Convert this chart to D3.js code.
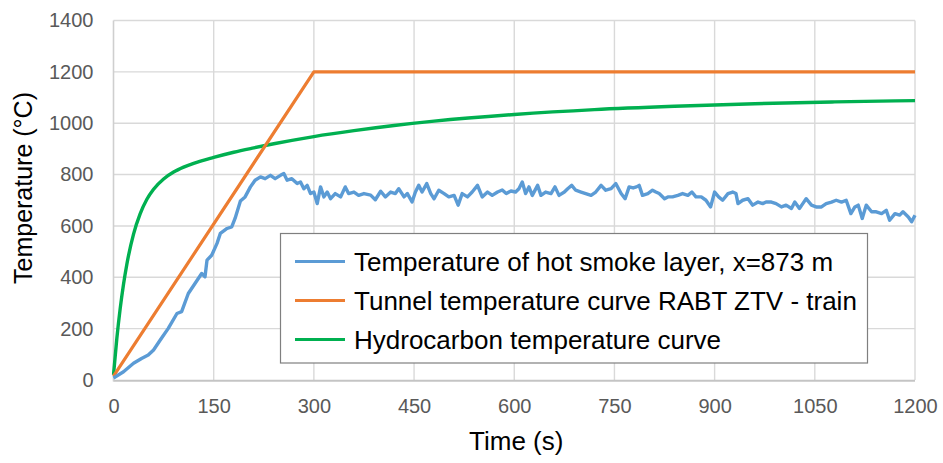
<!DOCTYPE html>
<html>
<head>
<meta charset="utf-8">
<script src="https://cdn.jsdelivr.net/npm/d3@7/dist/d3.min.js"></script>
<style>
  html, body { margin: 0; padding: 0; background: #fff; }
  svg { display: block; font-family: "Liberation Sans", Arial, sans-serif; }
</style>
</head>
<body>
<svg id="chart" width="943" height="463"></svg>
<script>
// ---- data ----
const xTicks = [0, 150, 300, 450, 600, 750, 900, 1050, 1200];
const yTicks = [0, 200, 400, 600, 800, 1000, 1200, 1400];
const seriesNames = [
  "Temperature of hot smoke layer, x=873 m",
  "Tunnel temperature curve RABT ZTV - train",
  "Hydrocarbon temperature curve"
];

const smokeTime = [0, 15, 30, 42, 52, 60, 70, 82, 95, 102, 112, 122, 132, 137, 140, 147, 155, 160, 170, 177, 182, 190, 197, 205, 212, 220, 227, 235, 242, 250, 255, 260, 267, 275, 280, 285, 290, 295, 300, 305, 310, 315, 320, 325, 332, 340, 347, 352, 360, 367, 375, 385, 392, 400, 407, 415, 422, 427, 435, 440, 447, 452, 457, 462, 469, 475, 480, 487, 495, 502, 510, 516, 522, 530, 537, 545, 552, 560, 567, 575, 582, 588, 595, 602, 607, 612, 617, 622, 627, 635, 640, 647, 655, 661, 667, 675, 680, 686, 692, 700, 707, 715, 722, 730, 737, 745, 752, 760, 766, 772, 778, 783, 787, 792, 800, 807, 812, 817, 825, 830, 837, 845, 852, 860, 866, 872, 880, 887, 894, 900, 906, 912, 920, 927, 932, 935, 942, 950, 957, 965, 972, 977, 985, 992, 1000, 1007, 1015, 1020, 1027, 1032, 1037, 1045, 1052, 1060, 1067, 1075, 1082, 1090, 1097, 1104, 1110, 1115, 1121, 1127, 1135, 1142, 1150, 1157, 1162, 1170, 1177, 1182, 1190, 1195, 1200];
const smokeTemp = [8, 32, 65, 84, 97, 117, 156, 201, 259, 266, 337, 376, 415, 402, 467, 486, 532, 571, 590, 596, 629, 697, 713, 752, 778, 791, 784, 797, 784, 797, 804, 778, 784, 765, 771, 745, 758, 726, 732, 687, 752, 713, 732, 706, 726, 713, 752, 726, 732, 719, 726, 720, 702, 735, 713, 732, 726, 745, 713, 726, 693, 732, 758, 732, 765, 726, 706, 739, 726, 713, 719, 681, 726, 713, 732, 758, 713, 732, 719, 732, 740, 726, 736, 732, 745, 771, 726, 752, 719, 758, 719, 732, 726, 752, 719, 732, 745, 758, 739, 732, 726, 719, 732, 758, 739, 745, 765, 726, 706, 752, 748, 752, 758, 719, 726, 739, 732, 726, 706, 713, 713, 719, 726, 719, 732, 713, 713, 700, 674, 732, 713, 700, 726, 732, 726, 687, 700, 706, 681, 693, 687, 693, 693, 687, 674, 681, 668, 693, 668, 687, 706, 681, 674, 674, 687, 693, 700, 693, 700, 648, 674, 681, 629, 681, 655, 655, 648, 661, 622, 648, 642, 655, 635, 616, 642];

const rabtTime = [0, 300, 1200];
const rabtTemp = [15, 1200, 1200];

const hcTime = [0, 5, 10, 15, 20, 30, 40, 50, 60, 75, 90, 105, 120, 150, 180, 210, 240, 300, 360, 420, 480, 600, 720, 840, 960, 1080, 1200];
const hcTemp = [20, 162, 278, 373, 451, 568, 648, 704, 743, 783, 810, 829, 844, 867, 887, 904, 920, 948, 971, 991, 1008, 1034, 1053, 1066, 1076, 1083, 1088];

const colors = ["#5B9BD5", "#ED7D31", "#00B050"];

// ---- chart ----
const svg = d3.select("#chart");
const m = { left: 113.5, right: 943 - 915, top: 20.5, bottom: 463 - 380 };
const W = 943, H = 463;

const x = d3.scaleLinear().domain([0, 1200]).range([m.left, W - m.right]);
const y = d3.scaleLinear().domain([0, 1400]).range([H - m.bottom, m.top]);

// gridlines
const grid = svg.append("g");
grid.selectAll("line.h").data(yTicks.filter(d => d > 0)).enter().append("line")
  .attr("x1", x(0)).attr("x2", x(1200))
  .attr("y1", d => y(d)).attr("y2", d => y(d))
  .attr("stroke", "#d9d9d9").attr("stroke-width", 1.4);
grid.selectAll("line.v").data(xTicks.filter(d => d > 0)).enter().append("line")
  .attr("x1", d => x(d)).attr("x2", d => x(d))
  .attr("y1", y(0)).attr("y2", y(1400))
  .attr("stroke", "#d9d9d9").attr("stroke-width", 1.4);

// axes lines
svg.append("line").attr("x1", x(0)).attr("x2", x(1200)).attr("y1", y(0) + 0.8).attr("y2", y(0) + 0.8)
  .attr("stroke", "#c4c4c4").attr("stroke-width", 2);
svg.append("line").attr("x1", x(0)).attr("x2", x(0)).attr("y1", y(1400)).attr("y2", y(0) + 1.5)
  .attr("stroke", "#cfcfcf").attr("stroke-width", 1.6);

// tick labels via d3 axes
const xAxis = d3.axisBottom(x).tickValues(xTicks).tickSize(0).tickPadding(19).tickFormat(d3.format("d"));
const gx = svg.append("g").attr("transform", `translate(0,${y(0)})`).call(xAxis);
gx.select(".domain").remove();
gx.selectAll("text").attr("fill", "#595959").attr("font-size", "20px")
  .attr("font-family", "'Liberation Sans', Arial, sans-serif");

const yAxis = d3.axisLeft(y).tickValues(yTicks).tickSize(0).tickPadding(20).tickFormat(d3.format("d"));
const gy = svg.append("g").attr("transform", `translate(${x(0)},0)`).call(yAxis);
gy.select(".domain").remove();
gy.selectAll("text").attr("fill", "#595959").attr("font-size", "20px")
  .attr("font-family", "'Liberation Sans', Arial, sans-serif");

// axis titles
svg.append("text").attr("x", (x(0) + x(1200)) / 2 + 2).attr("y", 450)
  .attr("text-anchor", "middle").attr("font-size", "26px").attr("fill", "#000")
  .text("Time (s)");
svg.append("text").attr("transform", `translate(32,188) rotate(-90)`)
  .attr("text-anchor", "middle").attr("font-size", "25px").attr("fill", "#000")
  .text("Temperature (°C)");

// lines
svg.append("clipPath").attr("id", "plotclip").append("rect")
  .attr("x", x(0) - 2).attr("y", y(1400) - 2).attr("width", x(1200) - x(0) + 4).attr("height", y(0) - y(1400) + 4);

function pairs(ts, vs) { return ts.map((t, i) => [t, vs[i]]); }
const lineLin = d3.line().x(d => x(d[0])).y(d => y(d[1]));
const lineSmooth = d3.line().x(d => x(d[0])).y(d => y(d[1])).curve(d3.curveMonotoneX);

const plot = svg.append("g").attr("clip-path", "url(#plotclip)");
plot.append("path").datum(pairs(hcTime, hcTemp)).attr("d", lineSmooth)
  .attr("fill", "none").attr("stroke", colors[2]).attr("stroke-width", 3.4).attr("stroke-linejoin", "round");
plot.append("path").datum(pairs(rabtTime, rabtTemp)).attr("d", lineLin)
  .attr("fill", "none").attr("stroke", colors[1]).attr("stroke-width", 3.2).attr("stroke-linejoin", "round");
plot.append("path").datum(pairs(smokeTime, smokeTemp)).attr("d", lineLin)
  .attr("fill", "none").attr("stroke", colors[0]).attr("stroke-width", 3.4).attr("stroke-linejoin", "round");

// legend
const lg = svg.append("g");
lg.append("rect").attr("x", 280.5).attr("y", 233.5).attr("width", 587).attr("height", 129.5)
  .attr("fill", "#fff").attr("stroke", "#7f7f7f").attr("stroke-width", 1.2);
seriesNames.forEach((name, i) => {
  const ly = 261.5 + i * 39;
  lg.append("line").attr("x1", 295).attr("x2", 345).attr("y1", ly).attr("y2", ly)
    .attr("stroke", colors[i]).attr("stroke-width", 3);
  lg.append("text").attr("x", 354).attr("y", ly + 9).attr("font-size", "26px").attr("fill", "#000")
    .text(name);
});
</script>
</body>
</html>
